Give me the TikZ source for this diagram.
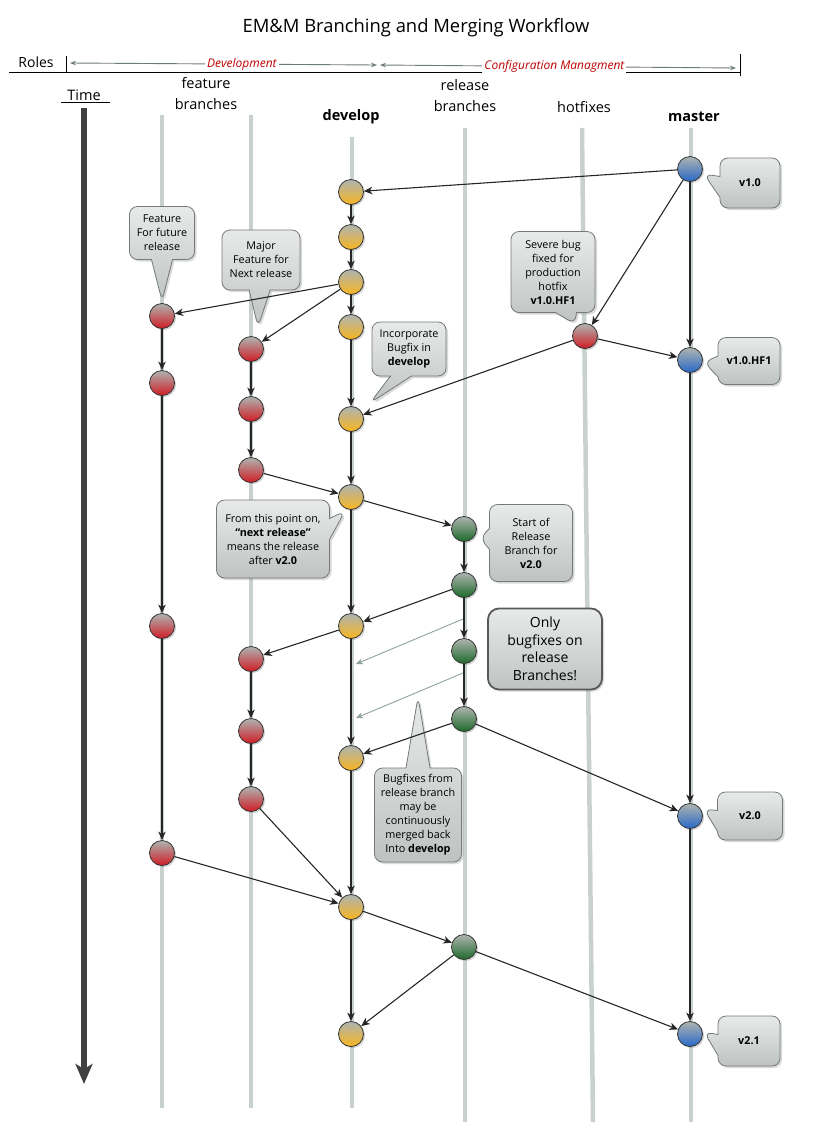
\documentclass[tikz,border=0pt]{standalone}
\usepackage{fontspec}
\setmainfont{Open Sans}
\usetikzlibrary{arrows.meta,shapes.callouts,shadows}

\definecolor{lane}{HTML}{C8D1CD}
\definecolor{edgec}{HTML}{262626}
\definecolor{nodetop}{HTML}{AEB4B1}
\definecolor{devc}{HTML}{F8B520}
\definecolor{featc}{HTML}{D01C24}
\definecolor{relc}{HTML}{1D6A28}
\definecolor{masc}{HTML}{2868C8}
\definecolor{notetop}{HTML}{E8EAEA}
\definecolor{notebot}{HTML}{BEC3C1}
\definecolor{notebd}{HTML}{737A78}
\definecolor{rolec}{HTML}{6E7C78}
\definecolor{rolered}{HTML}{C00000}
\definecolor{mergec}{HTML}{8FA39C}
\definecolor{timec}{HTML}{404040}

\begin{document}
\begin{tikzpicture}[x=1pt,y=-1pt,
  lanepath/.style={draw=lane, line width=4.5pt},
  commit/.style={circle, draw=black!80, line width=0.8pt, minimum size=25pt,
    inner sep=0pt, top color=nodetop,
    drop shadow={shadow xshift=1.6pt, shadow yshift=-1.6pt, opacity=0.35}},
  devnode/.style={commit, bottom color=devc},
  featnode/.style={commit, bottom color=featc},
  relnode/.style={commit, bottom color=relc},
  masnode/.style={commit, bottom color=masc},
  note/.style={rectangle callout, rounded corners=8pt, draw=notebd, line width=0.8pt,
    top color=notetop, bottom color=notebot,
    drop shadow={shadow xshift=2pt, shadow yshift=-2pt, opacity=0.3},
    align=center, font=\fontsize{10.8}{14}\selectfont, inner sep=2pt,
    callout pointer width=21pt},
  bignote/.style={rectangle, rounded corners=11pt, draw=black!65, line width=1.8pt,
    top color=notetop, bottom color=notebot,
    drop shadow={shadow xshift=2pt, shadow yshift=-2pt, opacity=0.3},
    align=center, font=\fontsize{14}{17.5}\selectfont, inner sep=2pt},
  arr/.style={draw=edgec, line width=1.1pt, -{Stealth[length=8.5pt,width=7.5pt,inset=2.5pt]}},
  mergearr/.style={draw=mergec, line width=0.9pt, -{Stealth[length=7pt,width=6pt,inset=2pt]}},
  rolearr/.style={draw=rolec, line width=0.9pt, {Stealth[length=6pt,width=4.5pt]}-{Stealth[length=6pt,width=4.5pt]}},
  rolelabel/.style={fill=white, inner sep=2pt, text=rolered, font=\fontsize{12}{14}\selectfont\itshape},
  head/.style={font=\fontsize{14.5}{21}\selectfont, align=center},
]
\useasboundingbox (0,0) rectangle (833,1136);

% ---------- title and roles bar ----------
\node (title) at (416,28) {\fontsize{18.4}{20}\selectfont EM\&M Branching and Merging Workflow};
\node (roles) at (36,62) {\fontsize{14}{16}\selectfont Roles};
\coordinate (rbL) at (9,72);
\coordinate (rbR) at (740,72);
\coordinate (tkLt) at (66,56);
\coordinate (tkLb) at (66,72);
\coordinate (tkRt) at (740,54);
\coordinate (tkRb) at (740,76);
\draw[line width=0.9pt] (rbL) -- (rbR);
\draw[line width=0.9pt] (tkLt) -- (tkLb);
\draw[line width=0.9pt] (tkRt) -- (tkRb);
\coordinate (devL) at (70,63);
\coordinate (devR) at (377,65);
\coordinate (cfgL) at (380,65);
\coordinate (cfgR) at (736,68);
\draw[rolearr] (devL) -- node[rolelabel, pos=0.56] (devlab) {Development} (devR);
\draw[rolearr] (cfgL) -- node[rolelabel, pos=0.49] (cfglab) {Configuration Managment} (cfgR);

% ---------- lane headings ----------
\node[head] (hfeat) at (206,94) {feature\\branches};
\node[head, font=\fontsize{14.5}{21}\selectfont\bfseries] (hdev) at (351,117) {develop};
\node[head] (hrel) at (465,96) {release\\branches};
\node[head] (hhot) at (584,107) {hotfixes};
\node[head, font=\fontsize{14.5}{21}\selectfont\bfseries] (hmas) at (694,117) {master};
\node[head] (htime) at (84,95) {Time};
\coordinate (tuL) at (61,102);
\coordinate (tuR) at (110,102);
\draw[line width=0.9pt] (tuL) -- (tuR);

% ---------- time axis ----------
\coordinate (timeTop) at (84,108);
\coordinate (timeBot) at (84,1084);
\draw[timec, line width=6pt, -{Stealth[length=20pt,width=17pt,inset=5pt]}] (timeTop) -- (timeBot);

% ---------- branch lanes ----------
\coordinate (lf1t) at (162,115);  \coordinate (lf1b) at (162,1108);
\coordinate (lf2t) at (251,115);  \coordinate (lf2b) at (251,1108);
\coordinate (ldvt) at (352,137);  \coordinate (ldvb) at (352,1108);
\coordinate (lrlt) at (465,128);  \coordinate (lrlb) at (465,1122);
\coordinate (lhft) at (582,128);  \coordinate (lhfb) at (593,1122);
\coordinate (lmst) at (691,128);  \coordinate (lmsb) at (691,1122);
\path[lanepath] (lf1t) -- (lf1b);
\path[lanepath] (lf2t) -- (lf2b);
\path[lanepath] (ldvt) -- (ldvb);
\path[lanepath] (lrlt) -- (lrlb);
\path[lanepath] (lhft) -- (lhfb);
\path[lanepath] (lmst) -- (lmsb);

% ---------- call-outs ----------
\coordinate (p1) at (162,301);
\coordinate (p2) at (258,327);
\coordinate (p3) at (575,324);
\coordinate (p4) at (704,174);
\coordinate (p5) at (704,362);
\coordinate (p6) at (370,403);
\coordinate (p7) at (345,511);
\coordinate (p8) at (480,538);
\coordinate (p10) at (418,697);
\coordinate (p11) at (704,809);
\coordinate (p12) at (704,1032);

\node[note, minimum width=65pt, minimum height=53pt, callout absolute pointer={(p1)}] (c1) at (162,233)
  {Feature\\For future\\release};
\node[note, minimum width=78pt, minimum height=60pt, callout absolute pointer={(p2)}] (c2) at (261,260)
  {Major\\Feature for\\Next release};
\node[note, minimum width=84pt, minimum height=81pt, callout absolute pointer={(p3)}] (c3) at (553,272)
  {Severe bug\\fixed for\\production\\hotfix\\\textbf{v1.0.HF1}};
\node[note, minimum width=60pt, minimum height=50pt, callout absolute pointer={(p4)}] (c4) at (750,183)
  {\textbf{v1.0}};
\node[note, minimum width=62pt, minimum height=47pt, callout absolute pointer={(p5)}] (c5) at (749,361)
  {\textbf{v1.0.HF1}};
\node[note, minimum width=74pt, minimum height=54pt, callout absolute pointer={(p6)}] (c6) at (409,349)
  {Incorporate\\Bugfix in\\\textbf{develop}};
\node[note, minimum width=113pt, minimum height=78pt, callout absolute pointer={(p7)}] (c7) at (273,539)
  {From this point on,\\\textbf{“next release”}\\means the release\\after \textbf{v2.0}};
\node[note, minimum width=83pt, minimum height=77pt, callout absolute pointer={(p8)}] (c8) at (531,543)
  {Start of\\Release\\Branch for\\\textbf{v2.0}};
\node[bignote, minimum width=114pt, minimum height=81pt] (c9) at (545,649)
  {Only\\bugfixes on\\release\\Branches!};
\node[note, minimum width=87pt, minimum height=94pt, callout pointer width=24pt,
  callout absolute pointer={(p10)}] (c10) at (418,815)
  {Bugfixes from\\release branch\\may be\\continuously\\merged back\\Into \textbf{develop}};
\node[note, minimum width=65pt, minimum height=48pt, callout absolute pointer={(p11)}] (c11) at (750,816)
  {\textbf{v2.0}};
\node[note, minimum width=62pt, minimum height=50pt, callout absolute pointer={(p12)}] (c12) at (749,1041)
  {\textbf{v2.1}};

% ---------- commits ----------
\node[devnode] (d1) at (351,192) {};
\node[devnode] (d2) at (351,237) {};
\node[devnode] (d3) at (351,282) {};
\node[devnode] (d4) at (351,327) {};
\node[devnode] (d5) at (351,419) {};
\node[devnode] (d6) at (351,497) {};
\node[devnode] (d7) at (351,626) {};
\node[devnode] (d8) at (351,758) {};
\node[devnode] (d9) at (351,907) {};
\node[devnode] (d10) at (351,1034) {};

\node[featnode] (fa1) at (162,316) {};
\node[featnode] (fa2) at (162,383) {};
\node[featnode] (fa3) at (162,626) {};
\node[featnode] (fa4) at (162,853) {};

\node[featnode] (fb1) at (251,349) {};
\node[featnode] (fb2) at (251,409) {};
\node[featnode] (fb3) at (251,470) {};
\node[featnode] (fb4) at (251,659) {};
\node[featnode] (fb5) at (251,731) {};
\node[featnode] (fb6) at (251,799) {};

\node[relnode] (r1) at (464,529) {};
\node[relnode] (r2) at (464,585) {};
\node[relnode] (r3) at (464,651) {};
\node[relnode] (r4) at (464,719) {};
\node[relnode] (r5) at (464,947) {};

\node[featnode] (h1) at (585,336) {};

\node[masnode] (m1) at (690,169) {};
\node[masnode] (m2) at (690,360) {};
\node[masnode] (m3) at (690,816) {};
\node[masnode] (m4) at (690,1034) {};

% ---------- history along each branch ----------
\draw[arr] (d1) -- (d2);
\draw[arr] (d2) -- (d3);
\draw[arr] (d3) -- (d4);
\draw[arr] (d4) -- (d5);
\draw[arr] (d5) -- (d6);
\draw[arr] (d6) -- (d7);
\draw[arr] (d7) -- (d8);
\draw[arr] (d8) -- (d9);
\draw[arr] (d9) -- (d10);

\draw[arr] (fa1) -- (fa2);
\draw[arr] (fa2) -- (fa3);
\draw[arr] (fa3) -- (fa4);

\draw[arr] (fb1) -- (fb2);
\draw[arr] (fb2) -- (fb3);
\draw[arr] (fb4) -- (fb5);
\draw[arr] (fb5) -- (fb6);

\draw[arr] (r1) -- (r2);
\draw[arr] (r2) -- (r3);
\draw[arr] (r3) -- (r4);

\draw[arr] (m1) -- (m2);
\draw[arr] (m2) -- (m3);
\draw[arr] (m3) -- (m4);

% ---------- branching and merging ----------
\draw[arr] (m1) -- (d1);
\draw[arr] (d3) -- (fa1);
\draw[arr] (d3) -- (fb1);
\draw[arr] (m1) -- (h1);
\draw[arr] (h1) -- (m2);
\draw[arr] (h1) -- (d5);
\draw[arr] (fb3) -- (d6);
\draw[arr] (d6) -- (r1);
\draw[arr] (r2) -- (d7);
\draw[arr] (d7) -- (fb4);
\draw[arr] (r4) -- (d8);
\draw[arr] (r4) -- (m3);
\draw[arr] (fb6) -- (d9);
\draw[arr] (fa4) -- (d9);
\draw[arr] (d9) -- (r5);
\draw[arr] (r5) -- (d10);
\draw[arr] (r5) -- (m4);

% ---------- continuous bugfix merges ----------
\coordinate (g1s) at (463,619);
\coordinate (g1e) at (356,664);
\coordinate (g2s) at (463,673);
\coordinate (g2e) at (356,718);
\draw[mergearr] (g1s) -- (g1e);
\draw[mergearr] (g2s) -- (g2e);
\end{tikzpicture}
\end{document}
